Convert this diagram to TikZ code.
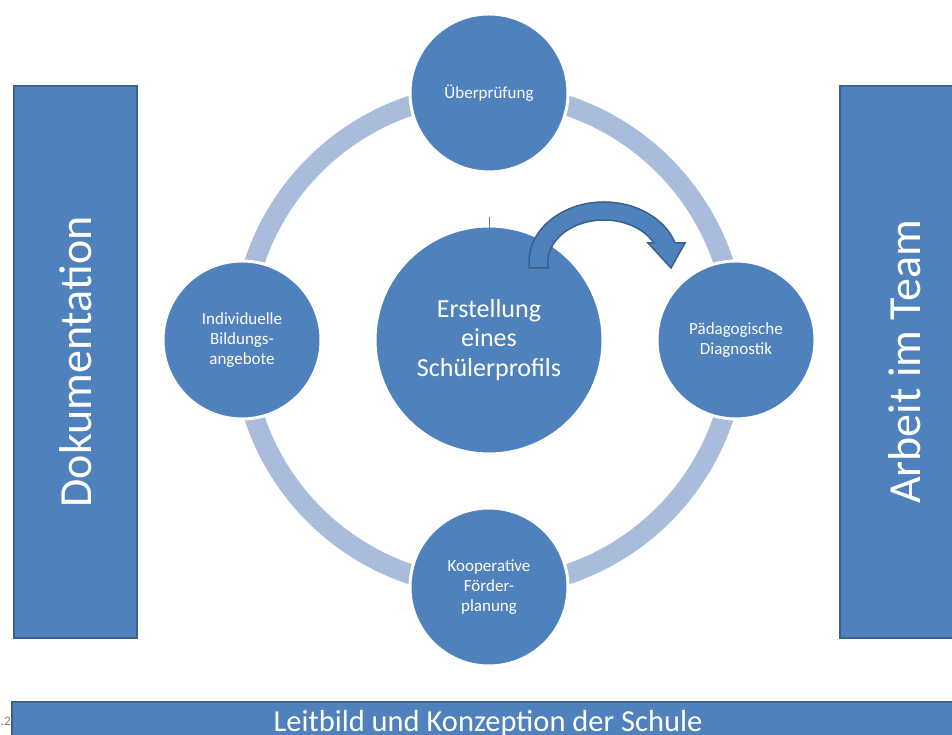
\documentclass[tikz,border=0pt]{standalone}
\usepackage{fontspec}
\setmainfont{Carlito}
\usetikzlibrary{positioning}

\definecolor{boxblue}{RGB}{79,129,189}
\definecolor{boxline}{RGB}{58,96,142}
\definecolor{ringblue}{RGB}{169,188,219}

\begin{document}
\begin{tikzpicture}[x=1pt, y=1pt,
	phase/.style={circle, fill=boxblue, draw=white, line width=3pt, minimum size=158pt, inner sep=0pt, align=center, text=white, font=\fontsize{17}{20}\selectfont},
	pillar/.style={rectangle, fill=boxblue, draw=boxline, line width=2pt, inner sep=0pt, text=white},
	ring/.style={draw=ringblue, line width=20pt}]
	\useasboundingbox (0,0) rectangle (952,735);

	% Side pillars and base
	\node[pillar, rotate=90, minimum width=552pt, minimum height=123pt, font=\fontsize{46}{50}\selectfont] (doku) at (75.5,373) {Dokumentation};
	\node[pillar, rotate=90, minimum width=552pt, minimum height=130pt, font=\fontsize{46}{50}\selectfont] (team) at (905,373) {Arbeit im Team};
	\node[pillar, line width=1.2pt, minimum width=952pt, minimum height=42pt, font=\fontsize{30.5}{34}\selectfont] (leit) at (488,12) {Leitbild und Konzeption der Schule};
	\node[anchor=base east, text=gray, font=\fontsize{13}{15}\selectfont, inner sep=0pt] (nr) at (11,9) {.2};

	% Centre and ring
	\coordinate (mid) at (489,395);
	\draw[ring] (mid) circle[radius=247];
	\node[phase, minimum size=228pt, font=\fontsize{26}{29.5}\selectfont] (ctr) at (mid) {Erstellung\\eines\\Schülerprofils};
	\draw[boxblue, line width=1pt] (ctr.north) ++(0,-4) -- ++(0,11);

	% Phases
	\node[phase, above=247pt of mid, anchor=center] (pruef) {Überprüfung};
	\node[phase, right=247pt of mid, anchor=center] (diag) {Pädagogische\\Diagnostik};
	\node[phase, below=247pt of mid, anchor=center] (foerd) {Kooperative\\Förder-\\planung};
	\node[phase, left=247pt of mid, anchor=center] (bild) {Individuelle\\Bildungs-\\angebote};

	% Curved arrow
	\draw[fill=boxblue, draw=boxline, line width=1.5pt, line join=miter]
		(529,467) -- (529,473) arc[start angle=180, end angle=18.5, x radius=75, y radius=60]
		-- (685,492) -- (671,467) -- (648,492) -- (653.9,492)
		arc[start angle=26.9, end angle=180, x radius=56, y radius=42]
		-- (548,467) -- cycle;
\end{tikzpicture}
\end{document}
